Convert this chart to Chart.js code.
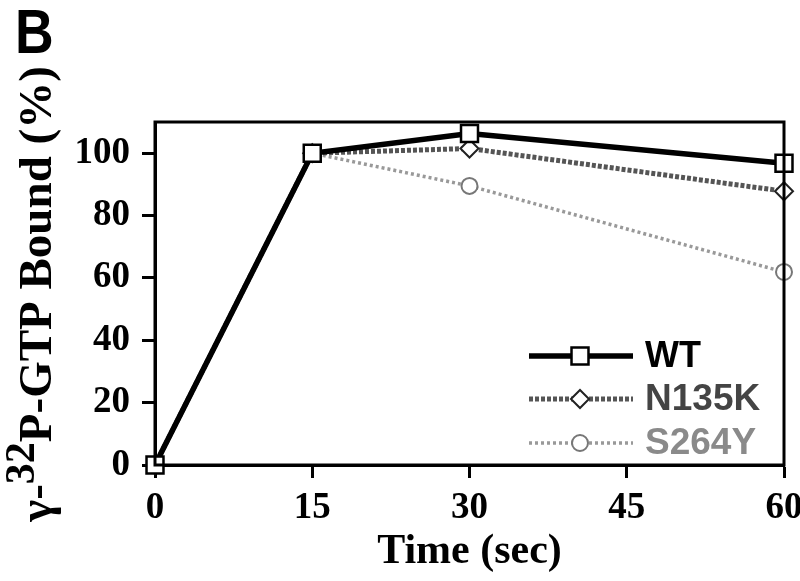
<!DOCTYPE html>
<html>
<head>
<meta charset="utf-8">
<script src="https://cdn.jsdelivr.net/npm/chart.js@4"></script>
<style>
  body { margin: 0; background: #fff; }
  #wrap { width: 800px; height: 581px; }
</style>
</head>
<body>
<div id="wrap"><canvas id="myChart" width="800" height="581"></canvas></div>
<script>
const times = [0, 15, 30, 60];
const wt = [0, 100, 106.3, 96.8];
const n135k = [0, 100, 101.5, 87.8];
const s264y = [0, 100, 89.5, 61.9];
const seriesNames = ["WT", "N135K", "S264Y"];
const yTicks = [0, 20, 40, 60, 80, 100];
const xTicks = [0, 15, 30, 45, 60];

const serif = "'Liberation Serif', 'Times New Roman', serif";
const sans = "'Liberation Sans', Arial, sans-serif";

const toPoints = (vals) => vals.map((v, i) => ({ x: times[i], y: v }));

// frame box, panel letter, y title with superscript, and the inner legend
const decorations = {
  id: "decorations",
  afterDraw(chart) {
    const { ctx, chartArea: a } = chart;
    ctx.save();
    ctx.strokeStyle = "#000";
    ctx.lineWidth = 3;
    ctx.strokeRect(a.left, a.top, a.right - a.left, a.bottom - a.top);

    ctx.fillStyle = "#000";
    ctx.textBaseline = "alphabetic";
    ctx.save();
    ctx.translate(15, 53);
    ctx.scale(0.85, 1);
    ctx.font = "bold 63px " + sans;
    ctx.fillText("B", 0, 0);
    ctx.restore();

    // y title, rotated
    ctx.translate(51, 294);
    ctx.rotate(-Math.PI / 2);
    const p1 = "\u03b3-", sup = "32", p2 = "P-GTP Bound (%)";
    const big = "bold 47px " + serif, small = "bold 42px " + serif;
    ctx.font = big;
    const w1 = ctx.measureText(p1).width, w3 = ctx.measureText(p2).width;
    ctx.font = small;
    const w2 = ctx.measureText(sup).width;
    let x = -(w1 + w2 + w3) / 2;
    ctx.font = big;
    ctx.fillText(p1, x, 0);
    x += w1;
    ctx.font = small;
    ctx.fillText(sup, x, -17);
    x += w2;
    ctx.font = big;
    ctx.fillText(p2, x, 0);
    ctx.restore();

    // legend
    ctx.save();
    const textColors = ["#000", "#444", "#8a8a8a"];
    const textSizes = [36, 37, 37];
    const rowY = [356, 399, 443];
    chart.data.datasets.forEach((ds, i) => {
      const y = rowY[i];
      ctx.strokeStyle = ds.borderColor;
      ctx.lineWidth = ds.borderWidth;
      ctx.setLineDash(ds.borderDash || []);
      ctx.beginPath();
      ctx.moveTo(529, y);
      ctx.lineTo(633, y);
      ctx.stroke();
      ctx.setLineDash([]);
      ctx.fillStyle = ds.pointBackgroundColor;
      ctx.strokeStyle = ds.pointBorderColor;
      ctx.lineWidth = ds.pointBorderWidth;
      Chart.helpers.drawPoint(ctx, {
        pointStyle: ds.pointStyle,
        radius: ds.pointRadius,
        borderWidth: ds.pointBorderWidth
      }, 580, y);
      ctx.fillStyle = textColors[i];
      ctx.font = "bold " + textSizes[i] + "px " + sans;
      ctx.textBaseline = "middle";
      ctx.fillText(seriesNames[i], 645, y + 1);
    });
    ctx.restore();
  }
};

const ctx = document.getElementById("myChart").getContext("2d");

const myChart = new Chart(ctx, {
  type: "line",
  data: {
    datasets: [
      {
        label: seriesNames[0],
        data: toPoints(wt),
        borderColor: "#000",
        borderWidth: 5.5,
        pointStyle: "rect",
        pointRadius: 12,
        pointBorderWidth: 2.5,
        pointBorderColor: "#000",
        pointBackgroundColor: "#fff",
        clip: false
      },
      {
        label: seriesNames[1],
        data: toPoints(n135k),
        borderColor: "#555",
        borderWidth: 5,
        borderDash: [4, 2],
        pointStyle: "rectRot",
        pointRadius: 9,
        pointBorderWidth: 2,
        pointBorderColor: "#222",
        pointBackgroundColor: "#fff",
        clip: false
      },
      {
        label: seriesNames[2],
        data: toPoints(s264y),
        borderColor: "#999",
        borderWidth: 3.5,
        borderDash: [3, 3],
        pointStyle: "circle",
        pointRadius: 8,
        pointBorderWidth: 2,
        pointBorderColor: "#777",
        pointBackgroundColor: "#fff",
        clip: false
      }
    ]
  },
  options: {
    responsive: false,
    animation: false,
    layout: { padding: { top: 122, right: 0 } },
    scales: {
      x: {
        type: "linear",
        min: 0,
        max: 60,
        afterFit: (s) => { s.height = 116; s.paddingLeft = 0; s.paddingRight = 16; },
        afterBuildTicks: (s) => { s.ticks = xTicks.map((v) => ({ value: v })); },
        ticks: {
          color: "#000",
          padding: 8,
          font: { family: serif, size: 37, weight: "bold" }
        },
        grid: {
          drawOnChartArea: false,
          tickLength: 13,
          tickWidth: 3,
          color: "#000"
        },
        border: { width: 3, color: "#000" },
        title: {
          display: true,
          text: "Time (sec)",
          color: "#000",
          padding: { top: 0, bottom: 4 },
          font: { family: serif, size: 42, weight: "bold" }
        }
      },
      y: {
        min: 0,
        max: 110,
        afterFit: (s) => { s.width = 155; },
        afterBuildTicks: (s) => { s.ticks = yTicks.map((v) => ({ value: v })); },
        ticks: {
          color: "#000",
          padding: 12,
          font: { family: serif, size: 37, weight: "bold" }
        },
        grid: {
          drawOnChartArea: false,
          tickLength: 13,
          tickWidth: 3,
          color: "#000"
        },
        border: { width: 3, color: "#000" }
      }
    },
    plugins: {
      legend: { display: false },
      tooltip: { enabled: false }
    }
  },
  plugins: [decorations]
});
</script>
</body>
</html>
